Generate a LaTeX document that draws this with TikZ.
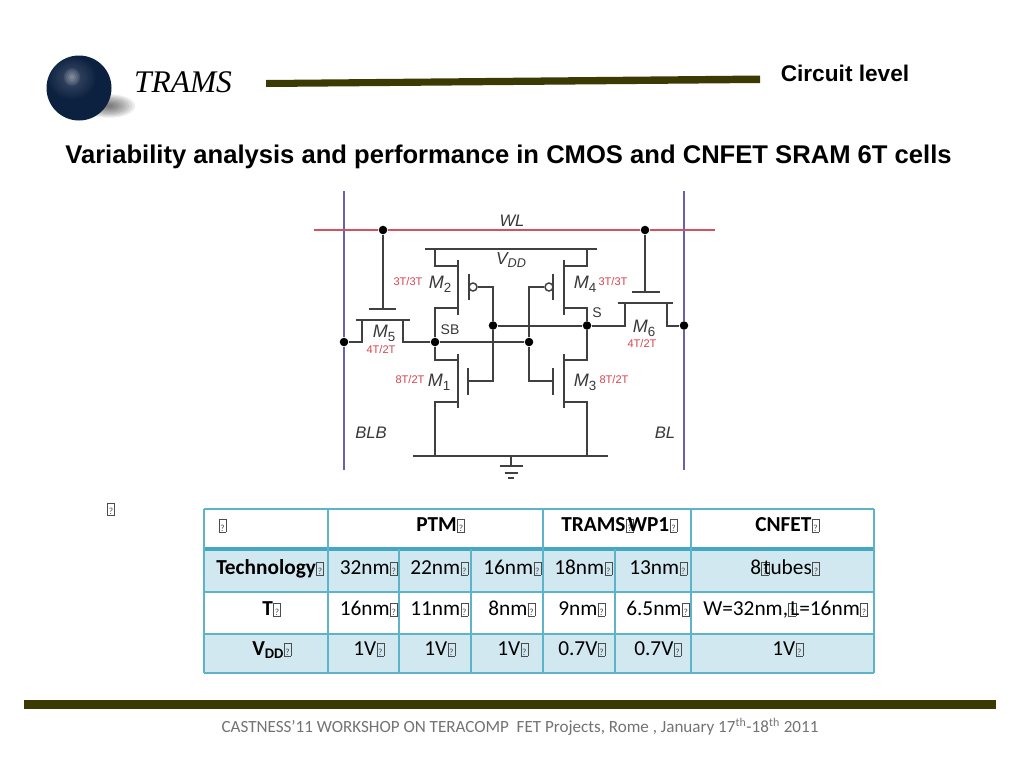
\documentclass[tikz,border=0pt]{standalone}
\usepackage{fontspec}
\setmainfont{Liberation Sans}
\newfontfamily\calib{Carlito}
\newfontfamily\logofont{Liberation Serif}
\newcommand\tofu{{\setlength\fboxsep{0pt}\setlength\fboxrule{.35pt}\color{black!70}\kern.3pt\fbox{\vrule width0pt height8.6pt depth .4pt\makebox[5pt]{\fontsize{7}{7}\selectfont\mdseries ?}}\kern.3pt}}
\newcommand\tofuo{\tofu\kern-4.6pt}
\definecolor{olivebar}{HTML}{3A3A02}
\definecolor{tborder}{HTML}{5DB4C9}
\definecolor{tthick}{HTML}{45A8C2}
\definecolor{tfill}{HTML}{D2E8F0}
\definecolor{wirec}{HTML}{404040}
\definecolor{lbltext}{HTML}{383838}
\definecolor{wlred}{HTML}{D4525F}
\definecolor{blblue}{HTML}{6A62A8}
\definecolor{lblred}{HTML}{D64550}
\definecolor{navy}{HTML}{0C2140}
\tikzset{
  wire/.style={draw=wirec,line width=1.5pt},
  plate/.style={draw=wirec,line width=1.7pt},
  junction/.style={circle,fill=black,inner sep=0pt,minimum size=6.4pt},
  lblm/.style={inner sep=0pt,text=lbltext,font=\fontsize{13.5}{14}\selectfont\itshape},
  lbls/.style={inner sep=0pt,text=lbltext,font=\fontsize{10.5}{12}\selectfont},
  lblr/.style={inner sep=0pt,text=lblred,font=\fontsize{8.3}{10}\selectfont},
  cell/.style={anchor=base west,inner sep=0pt,text=black,font=\calib\fontsize{16}{18}\selectfont},
  cellb/.style={cell,font=\calib\bfseries\fontsize{16}{18}\selectfont},
  tline/.style={draw=tborder,line width=1.4pt},
}
\begin{document}
\begin{tikzpicture}[x=0.75pt,y=-0.75pt]
\useasboundingbox (0,0) rectangle (1024,768);
\fill[white] (0,0) rectangle (1024,768);

% logo
\foreach \i in {1,...,9}{
  \fill[black,opacity=.075] (109,106) ellipse ({29-2.8*\i} and {13-1.25*\i});
}
\fill[navy] (79,88) circle (32.5);
\foreach \i in {1,...,10}{
  \fill[white,opacity=.022] (72,78) ellipse ({26-2.4*\i} and {23-2.1*\i});
}
\foreach \i in {1,...,4}{
  \fill[white,opacity=.1] (72,77) ellipse ({10-2*\i} and {11-2.2*\i});
}
\node[inner sep=0pt,text=black] (logotext) at (183,82) {\logofont\itshape\fontsize{23.6}{26}\selectfont TRAMS};

% top and bottom bars
\fill[olivebar] (266,80) -- (760,75.5) -- (760,83) -- (266,87) -- cycle;
\fill[olivebar] (24,700) rectangle (996,708.5);

% headings
\node[inner sep=0pt] (level) at (845,73) {\bfseries\fontsize{17}{20}\selectfont Circuit level};
\node[inner sep=0pt] (title) at (508.5,157) {\bfseries\fontsize{19.2}{23}\selectfont Variability analysis and performance in CMOS and CNFET SRAM 6T cells};
\node[inner sep=0pt,text=black!55,font=\calib\fontsize{12.8}{15}\selectfont] (footer) at (520,727) {CASTNESS’11 WORKSHOP ON TERACOMP\ \ FET Projects, Rome , January 17\textsuperscript{th}-18\textsuperscript{th} 2011};

% ---- circuit: junctions
\node[junction] (jwl5) at (383,230) {};
\node[junction] (jwl6) at (645,230) {};
\node[junction] (jblb) at (344,342) {};
\node[junction] (jsb) at (435,342) {};
\node[junction] (jsbr) at (529,342) {};
\node[junction] (jsl) at (493,325.5) {};
\node[junction] (js) at (587,325.5) {};
\node[junction] (jbl) at (684,325.5) {};

% bit and word lines
\coordinate (blbT) at (344,191); \coordinate (blbB) at (344,470);
\coordinate (blT) at (684,191); \coordinate (blB) at (684,470);
\coordinate (wlL) at (314,230); \coordinate (wlR) at (715,230);
\draw[draw=blblue,line width=1.4pt] (blbT) -- (jblb) -- (blbB);
\draw[draw=blblue,line width=1.4pt] (blT) -- (jbl) -- (blB);
\draw[draw=wlred,line width=1.4pt] (wlL) -- (jwl5) -- (jwl6) -- (wlR);

% VDD and ground rails
\coordinate (vddL) at (425,249); \coordinate (vddR) at (597,249);
\coordinate (gndL) at (413,456); \coordinate (gndR) at (608,456);
\draw[wire] (vddL) -- (vddR);
\draw[wire] (gndL) -- (gndR);

% M2
\coordinate (v2) at (435,249); \coordinate (d2) at (458,266); \coordinate (s2) at (458,308);
\draw[wire] (v2) |- (d2);
\draw[wire] (s2) -| (jsb);
\coordinate (c2a) at (458,260); \coordinate (c2b) at (458,315);
\draw[plate] (c2a) -- (c2b);
\coordinate (g2a) at (469,274); \coordinate (g2b) at (469,300);
\draw[plate] (g2a) -- (g2b);
\node[circle,draw=wirec,line width=1.1pt,fill=white,inner sep=0pt,minimum size=6pt] (b2) at (473,287) {};
\draw[wire] (b2) -| (jsl);
% M4
\coordinate (v4) at (587,249); \coordinate (d4) at (564,266); \coordinate (s4) at (564,308);
\draw[wire] (v4) |- (d4);
\draw[wire] (s4) -| (js);
\coordinate (c4a) at (564,260); \coordinate (c4b) at (564,315);
\draw[plate] (c4a) -- (c4b);
\coordinate (g4a) at (553,274); \coordinate (g4b) at (553,300);
\draw[plate] (g4a) -- (g4b);
\node[circle,draw=wirec,line width=1.1pt,fill=white,inner sep=0pt,minimum size=6pt] (b4) at (549,287) {};
\draw[wire] (b4) -| (jsbr);
% M1
\coordinate (d1) at (458,360); \coordinate (s1) at (458,402); \coordinate (g1) at (435,456);
\draw[wire] (jsb) |- (d1);
\draw[wire] (s1) -| (g1);
\coordinate (c1a) at (458,354); \coordinate (c1b) at (458,408);
\draw[plate] (c1a) -- (c1b);
\coordinate (p1a) at (468,368); \coordinate (p1b) at (468,395); \coordinate (p1m) at (468,381);
\draw[plate] (p1a) -- (p1b);
\draw[wire] (p1m) -| (jsl);
% M3
\coordinate (d3) at (564,360); \coordinate (s3) at (564,402); \coordinate (g3) at (587,456);
\draw[wire] (js) |- (d3);
\draw[wire] (s3) -| (g3);
\coordinate (c3a) at (564,354); \coordinate (c3b) at (564,408);
\draw[plate] (c3a) -- (c3b);
\coordinate (p3a) at (553,368); \coordinate (p3b) at (553,395); \coordinate (p3m) at (553,381);
\draw[plate] (p3a) -- (p3b);
\draw[wire] (p3m) -| (jsbr);
% cross-coupling wires
\draw[wire] (jsb) -- (jsbr);
\draw[wire] (jsl) -- (js);
% M5
\coordinate (g5) at (383,309); \coordinate (g5a) at (369,309); \coordinate (g5b) at (396,309);
\coordinate (t5a) at (356,320); \coordinate (t5b) at (410,320);
\coordinate (l5) at (362,320); \coordinate (r5) at (403,320);
\draw[wire] (jwl5) -- (g5);
\draw[plate] (g5a) -- (g5b);
\draw[plate] (t5a) -- (t5b);
\draw[wire] (l5) |- (jblb);
\draw[wire] (r5) |- (jsb);
% M6
\coordinate (g6) at (645,292); \coordinate (g6a) at (632,292); \coordinate (g6b) at (660,292);
\coordinate (t6a) at (618,303); \coordinate (t6b) at (673,303);
\coordinate (l6) at (625,303); \coordinate (r6) at (667,303);
\draw[wire] (jwl6) -- (g6);
\draw[plate] (g6a) -- (g6b);
\draw[plate] (t6a) -- (t6b);
\draw[wire] (l6) |- (js);
\draw[wire] (r6) |- (jbl);
% ground symbol
\coordinate (gs0) at (511,456); \coordinate (gs1) at (511,466);
\coordinate (gsa) at (499.5,466); \coordinate (gsb) at (522.5,466);
\coordinate (gsc) at (504.5,472.5); \coordinate (gsd) at (517.5,472.5);
\coordinate (gse) at (508,478); \coordinate (gsf) at (514,478);
\draw[wire] (gs0) -- (gs1);
\draw[wire] (gsa) -- (gsb);
\draw[wire] (gsc) -- (gsd);
\draw[wire] (gse) -- (gsf);

% circuit labels
\node[lbls,font=\fontsize{12.5}{14}\selectfont\itshape] (lwl) at (512,221) {WL};
\node[lbls,font=\fontsize{13}{14}\selectfont\itshape] (lvdd) at (511,260) {V\raisebox{-2.2pt}{\fontsize{9.5}{10}\selectfont DD}};
\node[lblm] (lm2) at (440,284) {M\raisebox{-3pt}{\fontsize{10}{10}\selectfont\upshape 2}};
\node[lblm] (lm4) at (585,284) {M\raisebox{-3pt}{\fontsize{10}{10}\selectfont\upshape 4}};
\node[lblm] (lm1) at (439,382) {M\raisebox{-3pt}{\fontsize{10}{10}\selectfont\upshape 1}};
\node[lblm] (lm3) at (585,382) {M\raisebox{-3pt}{\fontsize{10}{10}\selectfont\upshape 3}};
\node[lblm] (lm5) at (384,333) {M\raisebox{-3pt}{\fontsize{10}{10}\selectfont\upshape 5}};
\node[lblm] (lm6) at (644,328) {M\raisebox{-3pt}{\fontsize{10}{10}\selectfont\upshape 6}};
\node[lbls] (lsb) at (450,330) {SB};
\node[lbls] (ls) at (597,313) {S};
\node[lblr] (r2) at (408,282) {3T/3T};
\node[lblr] (r4) at (613,282) {3T/3T};
\node[lblr] (r5l) at (381,350) {4T/2T};
\node[lblr] (r6l) at (642,343.5) {4T/2T};
\node[lblr] (r1) at (410,380) {8T/2T};
\node[lblr] (r3) at (614,380) {8T/2T};
\node[lbls,font=\fontsize{12.5}{14}\selectfont\itshape] (lblb) at (371,433) {BLB};
\node[lbls,font=\fontsize{12.5}{14}\selectfont\itshape] (lbl) at (665,433) {BL};

% table
\fill[tfill] (204,549) rectangle (874,592);
\fill[tfill] (204,634) rectangle (874,673);
\foreach \yy in {509,592,634,673}{\draw[tline] (204,\yy) -- (874,\yy);}
\draw[draw=tthick,line width=3pt] (204,549) -- (874,549);
\foreach \xx in {204,328,543,691,874}{\draw[tline] (\xx,509) -- (\xx,673);}
\foreach \xx in {399,471,615}{\draw[tline] (\xx,549) -- (\xx,673);}

\node[inner sep=0pt] (stray) at (111,509) {\calib\tofu};
\node[cell] (h0) at (218,531) {\tofu};
\node[cellb] (h1) at (416,531) {PTM\tofu};
\node[cellb] (h2) at (561,531) {TRAMS\tofuo WP1\tofu};
\node[cellb] (h3) at (755,531) {CNFET\tofu};

\node[cellb] (a0) at (216,574) {Technology\tofu};
\node[cell] (a1) at (339.5,574) {32nm\tofu};
\node[cell] (a2) at (410,574) {22nm\tofu};
\node[cell] (a3) at (483,574) {16nm\tofu};
\node[cell] (a4) at (554,574) {18nm\tofu};
\node[cell] (a5) at (629,574) {13nm\tofu};
\node[cell] (a6) at (750,574) {8\tofuo tubes\tofu};

\node[cellb] (b0) at (262,615) {T\tofu};
\node[cell] (b1) at (339.5,615) {16nm\tofu};
\node[cell] (b2) at (410,615) {11nm\tofu};
\node[cell] (b3) at (488,615) {8nm\tofu};
\node[cell] (b4) at (558,615) {9nm\tofu};
\node[cell] (b5) at (626,615) {6.5nm\tofu};
\node[cell] (b6) at (703,615) {W=32nm,\tofuo L=16nm\tofu};

\node[cellb] (c0) at (252,655) {V\raisebox{-2.5pt}{\fontsize{11}{11}\selectfont DD}\tofu};
\node[cell] (c1) at (353,655) {1V\tofu};
\node[cell] (c2) at (424,655) {1V\tofu};
\node[cell] (c3) at (497,655) {1V\tofu};
\node[cell] (c4) at (558,655) {0.7V\tofu};
\node[cell] (c5) at (634,655) {0.7V\tofu};
\node[cell] (c6) at (772,655) {1V\tofu};
\end{tikzpicture}
\end{document}
